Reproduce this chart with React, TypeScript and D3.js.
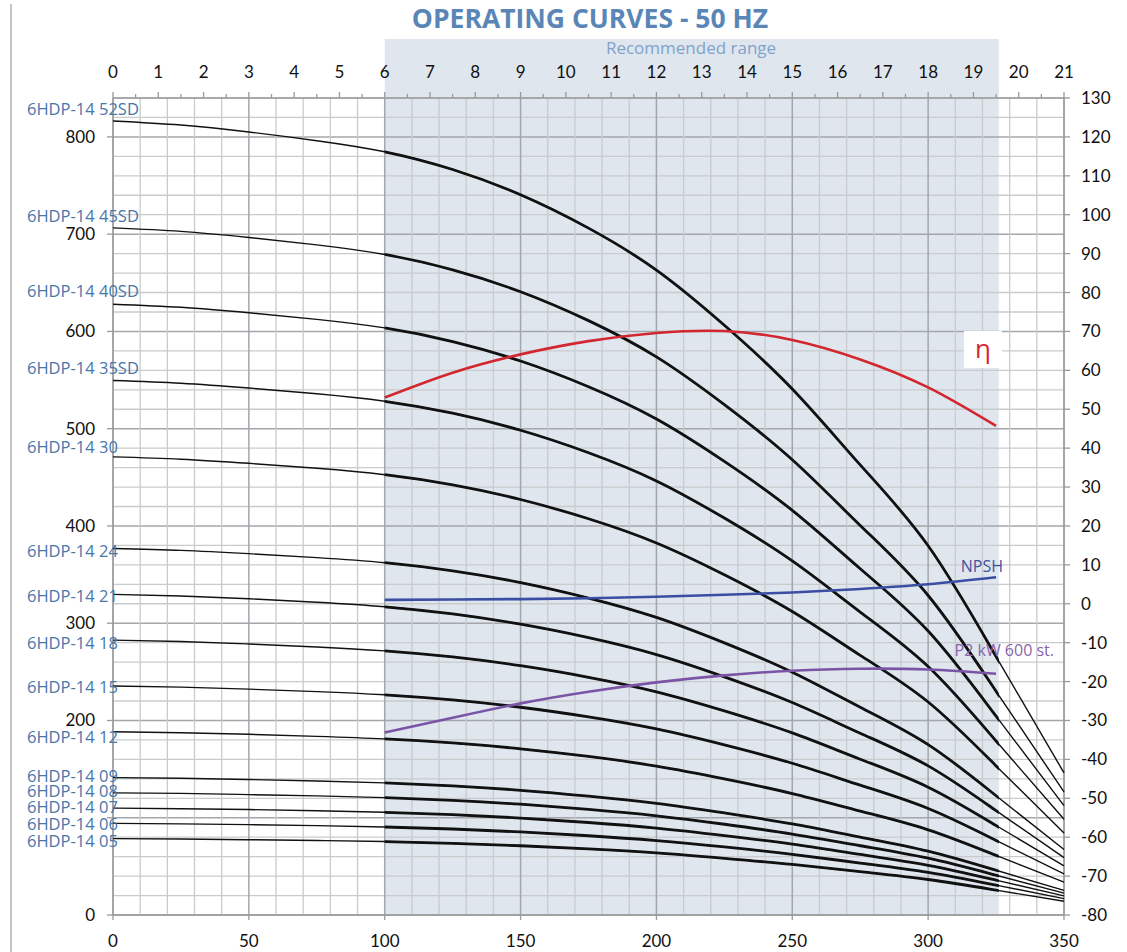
import React from 'react';
import * as d3 from 'd3';

// flow points (m3/h) for the H-Q curves
const flow = [0, 25, 50, 75, 100, 125, 150, 175, 200, 225, 250, 275, 300, 325, 350];

const models = [
  '6HDP-14 52SD', '6HDP-14 45SD', '6HDP-14 40SD', '6HDP-14 35SD', '6HDP-14 30',
  '6HDP-14 24', '6HDP-14 21', '6HDP-14 18', '6HDP-14 15', '6HDP-14 12',
  '6HDP-14 09', '6HDP-14 08', '6HDP-14 07', '6HDP-14 06', '6HDP-14 05',
];

// head (m) for each model, at the flow points above
const head52SD = [816.4, 812.2, 805.0, 796.1, 784.7, 766.5, 740.5, 706.2, 663.0, 606.3, 540.8, 462.8, 379.6, 265.7, 146.1];
const head45SD = [706.5, 702.9, 696.6, 689.0, 679.1, 663.3, 640.8, 611.1, 573.8, 524.7, 468.0, 400.5, 328.5, 230.0, 126.5];
const head40SD = [628.0, 624.8, 619.2, 612.4, 603.6, 589.6, 569.6, 543.2, 510.0, 466.4, 416.0, 356.0, 292.0, 204.4, 112.4];
const head35SD = [549.5, 546.7, 541.8, 535.9, 528.2, 515.9, 498.4, 475.3, 446.3, 408.1, 364.0, 311.5, 255.5, 178.9, 98.4];
const head30 = [471.0, 468.6, 464.4, 459.3, 452.7, 442.2, 427.2, 407.4, 382.5, 349.8, 312.0, 267.0, 219.0, 153.3, 84.3];
const head24 = [376.8, 374.9, 371.5, 367.4, 362.2, 353.8, 341.8, 325.9, 306.0, 279.8, 249.6, 213.6, 175.2, 122.6, 67.4];
const head21 = [329.7, 328.0, 325.1, 321.5, 316.9, 309.5, 299.0, 285.2, 267.8, 244.9, 218.4, 186.9, 153.3, 107.3, 59.0];
const head18 = [282.6, 281.2, 278.6, 275.6, 271.6, 265.3, 256.3, 244.4, 229.5, 209.9, 187.2, 160.2, 131.4, 92.0, 50.6];
const head15 = [235.5, 234.3, 232.2, 229.7, 226.4, 221.1, 213.6, 203.7, 191.3, 174.9, 156.0, 133.5, 109.5, 76.7, 42.2];
const head12 = [188.4, 187.4, 185.8, 183.7, 181.1, 176.9, 170.9, 163.0, 153.0, 139.9, 124.8, 106.8, 87.6, 61.3, 33.7];
const head09 = [141.3, 140.6, 139.3, 137.8, 135.8, 132.7, 128.2, 122.2, 114.8, 104.9, 93.6, 80.1, 65.7, 46.0, 25.3];
const head08 = [125.6, 125.0, 123.8, 122.5, 120.7, 117.9, 113.9, 108.6, 102.0, 93.3, 83.2, 71.2, 58.4, 40.9, 22.5];
const head07 = [109.9, 109.3, 108.4, 107.2, 105.6, 103.2, 99.7, 95.1, 89.3, 81.6, 72.8, 62.3, 51.1, 35.8, 19.7];
const head06 = [94.2, 93.7, 92.9, 91.9, 90.5, 88.4, 85.4, 81.5, 76.5, 70.0, 62.4, 53.4, 43.8, 30.7, 16.9];
const head05 = [78.5, 78.1, 77.4, 76.6, 75.5, 73.7, 71.2, 67.9, 63.8, 58.3, 52.0, 44.5, 36.5, 25.6, 14.1];

const heads = [
  head52SD, head45SD, head40SD, head35SD, head30, head24, head21, head18,
  head15, head12, head09, head08, head07, head06, head05,
];

// recommended range (m3/h)
const recommendedRange = [100, 326];

// secondary curves on the right axis
const dutyFlow = [100, 125, 150, 175, 200, 225, 250, 275, 300, 325];
const efficiency = [53.0, 59.4, 64.1, 67.5, 69.6, 70.1, 67.8, 62.8, 55.6, 45.7];
const npsh = [1.0, 1.1, 1.2, 1.4, 1.8, 2.3, 2.9, 3.8, 5.0, 6.8];
const powerP2 = [-33.1, -29.3, -25.6, -22.6, -20.2, -18.4, -17.2, -16.7, -16.9, -18.0];

const leftTicks = [0, 100, 200, 300, 400, 500, 600, 700, 800];
const leftTickLabels = ['0', '', '200', '300', '400', '500', '600', '700', '800'];
const rightTicks = [-80, -70, -60, -50, -40, -30, -20, -10, 0, 10, 20, 30, 40, 50, 60, 70, 80, 90, 100, 110, 120, 130];
const bottomTicks = [0, 50, 100, 150, 200, 250, 300, 350];
const topTicks = [0, 1, 2, 3, 4, 5, 6, 7, 8, 9, 10, 11, 12, 13, 14, 15, 16, 17, 18, 19, 20, 21];

// label nudges (px) relative to the curve start
const labelDy = [-12, -12, -13, -13, -10, 2, 2, 3, 1, 5, -2, -2, -1, 1, 2];

const W = 1127;
const H = 952;
const axisFont = 'Lato, "Open Sans", sans-serif';
const labelFont = '"Open Sans", "Noto Sans", sans-serif';

export default function App() {
  const x = d3.scaleLinear().domain([0, 350]).range([113, 1064]);
  const xTop = d3.scaleLinear().domain([0, 21]).range([113, 1064]);
  const yL = d3.scaleLinear().domain([0, 840]).range([915, 98]);
  const yR = d3.scaleLinear().domain([-80, 130]).range([915, 98]);

  const headLine = d3.line<[number, number]>()
    .x(d => x(d[0]))
    .y(d => yL(d[1]))
    .curve(d3.curveNatural);
  const rightLine = d3.line<[number, number]>()
    .x(d => x(d[0]))
    .y(d => yR(d[1]))
    .curve(d3.curveNatural);

  const hGrid = d3.range(0, 841, 20);
  const vGrid = d3.range(0, 351, 10);
  const minorTop = d3.range(0.5, 21, 1);

  const [r0, r1] = recommendedRange;

  return (
    <svg width={W} height={H} style={{ position: 'absolute', left: 0, top: 0, background: '#fff' }}>
      <defs>
        <clipPath id="duty">
          <rect x={x(r0)} y={0} width={x(r1) - x(r0)} height={H} />
        </clipPath>
      </defs>
      <line x1={11} x2={11} y1={4} y2={H} stroke="#c4c4c4" strokeWidth={2} />

      <text x={590} y={28} textAnchor="middle" fontFamily={labelFont} fontWeight={700}
        fontSize={26.5} fill="#5a86b7">OPERATING CURVES - 50 HZ</text>

      {/* recommended range */}
      <rect x={x(r0)} y={39} width={x(r1) - x(r0)} height={yL(0) - 39} fill="#dfe6ee" />
      <text x={691} y={54} textAnchor="middle" fontFamily={labelFont} fontSize={17}
        fill="#7fa2cb">Recommended range</text>

      {/* grid */}
      {hGrid.map(v => (
        <line key={'h' + v} x1={x(0)} x2={x(350)} y1={yL(v)} y2={yL(v)}
          stroke={v % 100 === 0 ? '#a3a6aa' : '#c9cbcd'} strokeWidth={v % 100 === 0 ? 1.5 : 1.3} />
      ))}
      {vGrid.map(v => (
        <line key={'v' + v} x1={x(v)} x2={x(v)} y1={yL(840)} y2={yL(0)}
          stroke={v % 50 === 0 ? '#a3a6aa' : '#c9cbcd'} strokeWidth={v % 50 === 0 ? 1.5 : 1.3} />
      ))}

      {/* axes */}
      <g stroke="#9a9a9a" strokeWidth={1.3}>
        <line x1={x(0)} x2={x(350)} y1={yL(840)} y2={yL(840)} />
        <line x1={x(0)} x2={x(350)} y1={yL(0)} y2={yL(0)} />
        <line x1={x(0)} x2={x(0)} y1={yL(840)} y2={yL(0)} />
        <line x1={x(350)} x2={x(350)} y1={yL(840)} y2={yL(0)} />
        {leftTicks.map(v => <line key={'lt' + v} x1={x(0) - 6} x2={x(0)} y1={yL(v)} y2={yL(v)} />)}
        {rightTicks.map(v => <line key={'rt' + v} x1={x(350)} x2={x(350) + 6} y1={yR(v)} y2={yR(v)} />)}
        {bottomTicks.map(v => <line key={'bt' + v} x1={x(v)} x2={x(v)} y1={yL(0)} y2={yL(0) + 5} />)}
        {topTicks.map(v => <line key={'tt' + v} x1={xTop(v)} x2={xTop(v)} y1={yL(840) - 6} y2={yL(840)} />)}
        {minorTop.map(v => <line key={'tm' + v} x1={xTop(v)} x2={xTop(v)} y1={yL(840) - 4} y2={yL(840)} />)}
      </g>

      <g fontFamily={axisFont} fontSize={17} fill="#111">
        {leftTicks.map((v, i) => (
          <text key={'ll' + v} x={95} y={yL(v) + 6} textAnchor="end">{leftTickLabels[i]}</text>
        ))}
        {rightTicks.map(v => (
          <text key={'rl' + v} x={1081} y={yR(v) + 6}>{v}</text>
        ))}
        {bottomTicks.map(v => (
          <text key={'bl' + v} x={x(v)} y={947} textAnchor="middle">{v}</text>
        ))}
        {topTicks.map(v => (
          <text key={'tl' + v} x={xTop(v)} y={78} textAnchor="middle">{v}</text>
        ))}
      </g>

      {/* H-Q curves: thin over the full span, thick inside the recommended range */}
      {heads.map((h, i) => {
        const d = headLine(flow.map((q, j) => [q, h[j]] as [number, number])) || '';
        return (
          <g key={models[i]} fill="none" stroke="#111">
            <path d={d} strokeWidth={1.4} />
            <path d={d} strokeWidth={2.8} clipPath="url(#duty)" />
          </g>
        );
      })}

      {/* efficiency, NPSH, P2 */}
      <path d={rightLine(dutyFlow.map((q, j) => [q, efficiency[j]] as [number, number])) || ''}
        fill="none" stroke="#d3272f" strokeWidth={2.6} />
      <path d={rightLine(dutyFlow.map((q, j) => [q, npsh[j]] as [number, number])) || ''}
        fill="none" stroke="#3a4ea3" strokeWidth={2.6} />
      <path d={rightLine(dutyFlow.map((q, j) => [q, powerP2[j]] as [number, number])) || ''}
        fill="none" stroke="#7b54a6" strokeWidth={2.6} />

      <rect x={964} y={331} width={38} height={37} fill="#fff" />
      <text x={983} y={358} textAnchor="middle" fontFamily={labelFont} fontSize={26} fill="#d3272f">η</text>
      <text x={1003} y={572} textAnchor="end" fontFamily={labelFont} fontSize={16} fill="#3f52a4">NPSH</text>
      <text x={1054} y={656} textAnchor="end" fontFamily={labelFont} fontSize={16} fill="#8a63ae">P2 kW 600 st.</text>

      {/* model labels */}
      <g fontFamily={labelFont} fontSize={16.5} fill="#4a76a9">
        {models.map((m, i) => (
          <text key={m} x={27} y={yL(heads[i][0]) + labelDy[i] + 6}>{m}</text>
        ))}
      </g>
    </svg>
  );
}
